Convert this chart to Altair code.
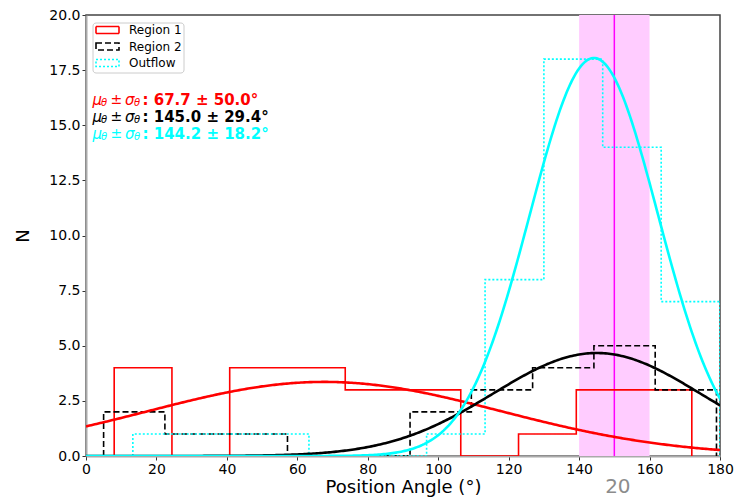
import altair as alt
import numpy as np
import pandas as pd

# ---------------- data ----------------
series = ["Region 1", "Region 2", "Outflow"]
colors = ["#ff0000", "#000000", "#00ffff"]
dashes = [[1, 0], [6, 3], [2, 2]]

r1_edges = [8.0, 24.4, 40.8, 57.2, 73.6, 90.0, 106.4, 122.8, 139.2, 155.6, 172.0]
r1_counts = [4, 0, 4, 4, 3, 3, 0, 1, 3, 3]
r2_edges = [5.0, 22.4, 39.8, 57.2, 74.6, 92.0, 109.4, 126.8, 144.2, 161.6, 179.0]
r2_counts = [2, 1, 1, 0, 0, 2, 3, 4, 5, 3]
of_edges = [13.3, 30.0, 46.7, 63.3, 80.0, 96.7, 113.3, 130.0, 146.7, 163.3, 180.0]
of_counts = [1, 1, 1, 0, 0, 1, 8, 18, 14, 7]

# Gaussian fit parameters (mean, sigma from annotations; peak)
fit_mu = [67.7, 145.0, 144.2]
fit_sigma = [50.0, 29.4, 18.2]
fit_peak = [3.36, 4.67, 18.05]

band = [140.0, 160.0]
center_line = [150.0]

ann_values = ["67.7 ± 50.0°", "145.0 ± 29.4°", "144.2 ± 18.2°"]

W, H = 634, 441
FONT = "DejaVu Sans"

# ---------------- build tables ----------------
rows = []
for name, edges, counts in zip(series, [r1_edges, r2_edges, of_edges],
                               [r1_counts, r2_counts, of_counts]):
    pts = [(edges[0], 0)]
    for i, c in enumerate(counts):
        pts.append((edges[i], c))
        pts.append((edges[i + 1], c))
    pts.append((edges[-1], 0))
    for k, (x, y) in enumerate(pts):
        rows.append({"series": name, "x": x, "y": y, "k": k})
hist_df = pd.DataFrame(rows)

xs = np.linspace(0, 180, 361)
crow = []
for name, mu, sg, pk in zip(series, fit_mu, fit_sigma, fit_peak):
    ys = pk * np.exp(-((xs - mu) ** 2) / (2 * sg ** 2))
    for x, y in zip(xs, ys):
        crow.append({"series": name, "x": float(x), "y": float(y)})
curve_df = pd.DataFrame(crow)

xscale = alt.Scale(domain=[0, 180], nice=False, zero=False)
yscale = alt.Scale(domain=[0, 20], nice=False)
cscale = alt.Scale(domain=series, range=colors)
dscale = alt.Scale(domain=series, range=dashes)

base_x = alt.X("x:Q", scale=xscale,
               axis=alt.Axis(values=list(range(0, 181, 20)), format="d",
                             title="Position Angle (°)", labelFlush=False))
base_y = alt.Y("y:Q", scale=yscale,
               axis=alt.Axis(values=[0, 2.5, 5, 7.5, 10, 12.5, 15, 17.5, 20],
                             format=".1f", title="N", labelFlush=False))

band_df = pd.DataFrame({"x": [band[0]], "x2": [band[1]]})
band_layer = alt.Chart(band_df).mark_rect(color="#ffccff", opacity=1).encode(
    x=alt.X("x:Q", scale=xscale), x2="x2:Q",
    y=alt.value(0), y2=alt.value(H))

vline = alt.Chart(pd.DataFrame({"x": center_line})).mark_rule(
    color="#ff00ff", strokeWidth=1.5).encode(
    x=alt.X("x:Q", scale=xscale), y=alt.value(0), y2=alt.value(H))

hist = alt.Chart(hist_df).mark_line(strokeWidth=1.6, interpolate="linear",
                                    clip=True).encode(
    x=base_x, y=base_y,
    color=alt.Color("series:N", scale=cscale, legend=None),
    strokeDash=alt.StrokeDash("series:N", scale=dscale, legend=None),
    order="k:Q", detail="series:N")

curves = alt.Chart(curve_df).mark_line(strokeWidth=2.6, clip=True).encode(
    x=alt.X("x:Q", scale=xscale), y=alt.Y("y:Q", scale=yscale),
    color=alt.Color("series:N", scale=cscale, legend=None),
    detail="series:N")

# ---------------- legend (custom) ----------------
leg_frame = alt.Chart(pd.DataFrame({"a": [0]})).mark_rect(
    fill="white", fillOpacity=0.85, stroke="#cccccc", strokeWidth=1,
    cornerRadius=3).encode(
    x=alt.value(7), x2=alt.value(98), y=alt.value(8), y2=alt.value(58))

leg_rows = [15, 31.5, 48]
leg_patches = []
for name, col, dsh, yy in zip(series, colors, dashes, leg_rows):
    leg_patches.append(
        alt.Chart(pd.DataFrame({"s": [name]})).mark_rect(
            fill=None, stroke=col, strokeWidth=1.6, strokeDash=dsh).encode(
            x=alt.value(10), x2=alt.value(33),
            y=alt.value(yy - 3.5), y2=alt.value(yy + 3.5)))
leg_text = alt.Chart(pd.DataFrame({"s": series, "py": leg_rows})).mark_text(
    align="left", baseline="middle", font=FONT, fontSize=12,
    color="#000000").encode(
    text="s:N", x=alt.value(43), y=alt.Y("py:Q", scale=None))

# ---------------- annotations ----------------
ann_y = [85, 102, 119]
ann_df = pd.DataFrame({"v": [": " + v for v in ann_values], "py": ann_y,
                       "col": colors})
ann_mu = pd.DataFrame({"t": ["μ"] * 3, "py": ann_y, "col": colors})
ann_sig = pd.DataFrame({"t": ["σ"] * 3, "py": ann_y, "col": colors})
ann_pm = pd.DataFrame({"t": ["±"] * 3, "py": ann_y, "col": colors})
ann_th = pd.DataFrame({"t": ["θ"] * 3, "py": [v + 3 for v in ann_y],
                       "col": colors})


def txt(df, px, size, style="normal", weight="normal", field="t"):
    return alt.Chart(df).mark_text(
        align="left", baseline="middle", font=FONT, fontSize=size,
        fontStyle=style, fontWeight=weight).encode(
        text=f"{field}:N", x=alt.value(px),
        y=alt.Y("py:Q", scale=None),
        color=alt.Color("col:N", scale=None))


ann_layers = [
    txt(ann_mu, 6.5, 15, style="italic"),
    txt(ann_th, 15, 10, style="italic"),
    txt(ann_pm, 24.5, 14),
    txt(ann_sig, 39, 15, style="italic"),
    txt(ann_th, 48, 10, style="italic"),
    txt(ann_df, 56.5, 15, weight="bold", field="v"),
]

note = alt.Chart(pd.DataFrame({"x": [151.0], "t": ["20"]})).mark_text(
    font=FONT, fontSize=20, color="#8c8c8c", baseline="middle",
    align="center").encode(
    x=alt.X("x:Q", scale=xscale), y=alt.value(H + 31), text="t:N")

chart = alt.layer(
    band_layer, vline, hist, curves, leg_frame, *leg_patches, leg_text,
    *ann_layers, note
).properties(
    width=W, height=H,
    autosize=alt.AutoSizeParams(type="none"),
    padding={"left": 86, "top": 15, "right": 33, "bottom": 45},
).configure_view(
    stroke="#444444", strokeWidth=1.5
).configure_axis(
    grid=False, labelFont=FONT, titleFont=FONT, labelFontSize=14,
    titleFontSize=18, titleFontWeight="normal", labelColor="#000000",
    titleColor="#000000", domainColor="#aaaaaa", domainWidth=2,
    tickColor="#333333", tickSize=4, tickWidth=1, labelPadding=2,
).configure_axisY(
    titlePadding=16, titleAngle=270
).configure_axisX(
    titlePadding=2
)

chart.save("out.html", embed_options={"renderer": "svg", "actions": False})
